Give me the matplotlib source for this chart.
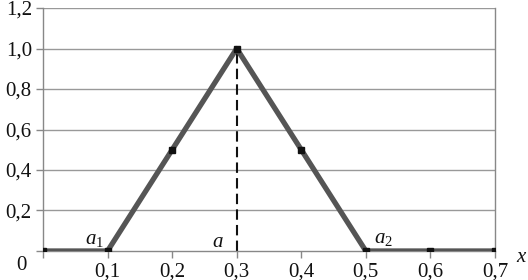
import matplotlib
matplotlib.use("Agg")
import matplotlib.pyplot as plt
from matplotlib.ticker import FixedLocator

x_vals = [0.0, 0.1, 0.2, 0.3, 0.4, 0.5, 0.6, 0.7]
mu_vals = [0.0, 0.0, 0.5, 1.0, 0.5, 0.0, 0.0, 0.0]
x_ticks = [0.1, 0.2, 0.3, 0.4, 0.5, 0.6, 0.7]
x_ticklabels = ["0,1", "0,2", "0,3", "0,4", "0,5", "0,6", "0,7"]
y_ticks = [0.2, 0.4, 0.6, 0.8, 1.0, 1.2]
y_ticklabels = ["0,2", "0,4", "0,6", "0,8", "1,0", "1,2"]
peak_x = 0.3
peak_y = 1.0

plt.rcParams['font.family'] = ['Liberation Serif', 'DejaVu Serif']
plt.rcParams['mathtext.fontset'] = 'custom'
plt.rcParams['mathtext.rm'] = 'Liberation Serif'
plt.rcParams['mathtext.it'] = 'Liberation Serif:italic'

fig = plt.figure(figsize=(5.28, 2.80), dpi=100)
ax = fig.add_axes([0.0814, 0.1036, 0.9375 - 0.0814, 0.9714 - 0.1036])

ax.set_xlim(0, 0.7)
ax.set_ylim(0, 1.2)

grid_c = "#999999"
for yv in y_ticks:
    ax.axhline(yv, color=grid_c, lw=1.0, zorder=1)

ax.plot(x_vals, mu_vals, color="#555555", lw=3.8, zorder=3, solid_capstyle="butt")
ax.plot(x_vals, mu_vals, ls="none", marker="s", ms=3.8, color="#111111", zorder=4)
ax.plot([peak_x, peak_x], [0, peak_y], color="#111111", lw=1.5, ls=(0, (5, 2.5)), zorder=2)

ax.spines["top"].set_visible(False)
for s in ["left", "bottom", "right"]:
    ax.spines[s].set_color("#888888")
    ax.spines[s].set_linewidth(1.0)

ax.xaxis.set_major_locator(FixedLocator([0.0] + x_ticks))
ax.set_xticklabels([""] + x_ticklabels, family="Liberation Serif", fontsize=15)
ax.yaxis.set_major_locator(FixedLocator([0.0] + y_ticks))
ax.set_yticklabels([""] + y_ticklabels, family="Liberation Serif", fontsize=15)
ax.tick_params(axis="both", colors="#888888", length=5, width=1.0, labelcolor="#111111")
ax.tick_params(axis="x", pad=3)
ax.tick_params(axis="y", pad=3)

fig.text(21 / 528, 1 - 265 / 280, "0", ha="center", va="center", fontsize=15,
         family="Liberation Serif", color="#111111")

ax.text(0.080, 0.055, "$a_1$", fontsize=15, ha="center", va="center", color="#111111")
ax.text(0.271, 0.04, "$a$", fontsize=15, ha="center", va="center", color="#111111")
ax.text(0.528, 0.064, "$a_2$", fontsize=15, ha="center", va="center", color="#111111")
fig.text(522 / 528, 1 - 258 / 280, "$x$", fontsize=15, ha="center", va="center", color="#111111")

fig.savefig("out.png", dpi=100)
